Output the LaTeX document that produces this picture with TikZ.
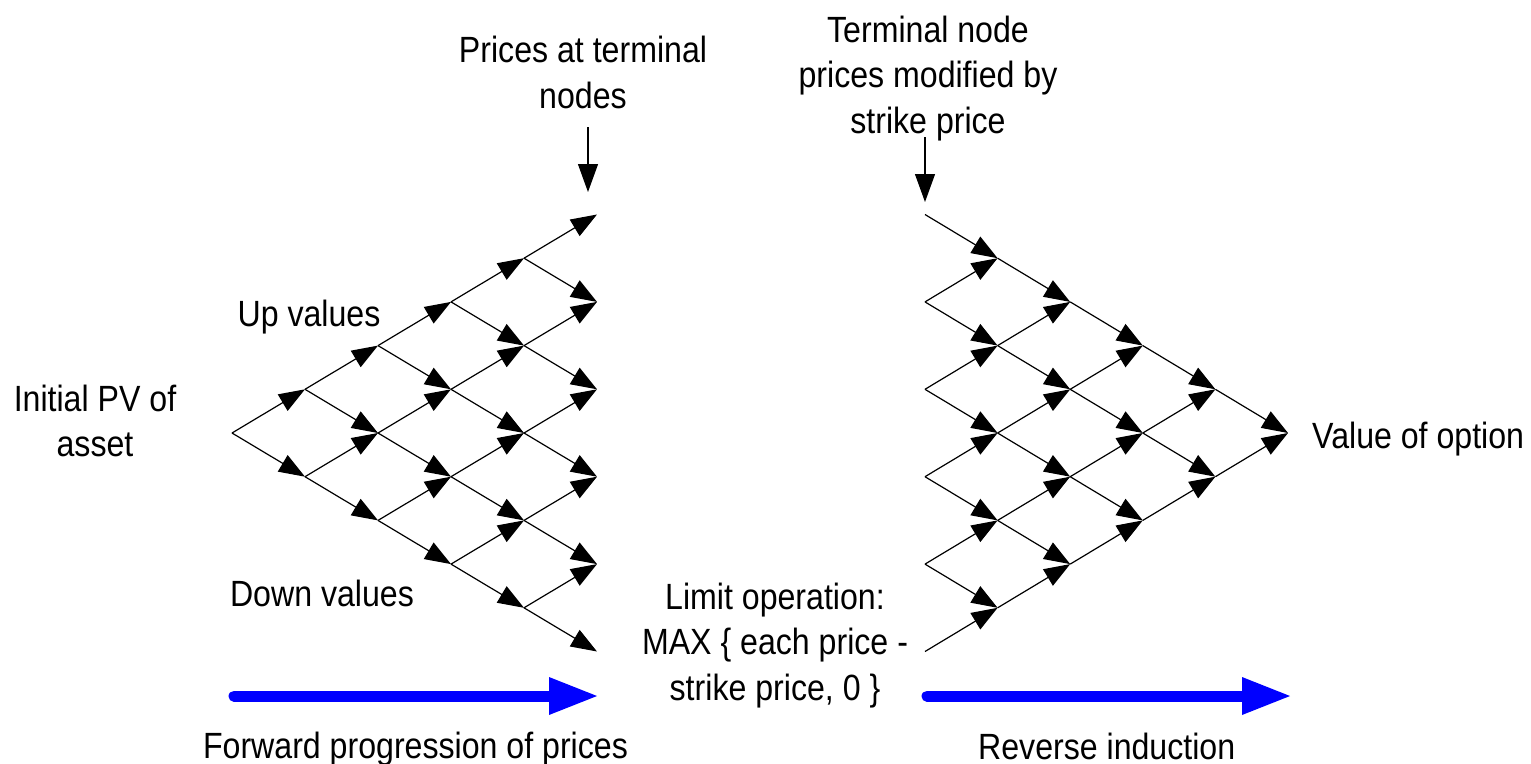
\documentclass[tikz,border=0pt]{standalone}
\usepackage{fontspec}
\setmainfont{Liberation Sans}[FakeStretch=0.88]
\usetikzlibrary{arrows.meta}
\begin{document}
\begin{tikzpicture}[x=1pt,y=-1pt,
  edge/.style={line width=1.2pt, -{Triangle[length=26pt,width=19pt]}},
  vedge/.style={line width=1.2pt, -{Triangle[length=28pt,width=20pt]}},
  lbl/.style={font=\fontsize{36.5}{45.5}\selectfont, align=center, inner sep=0pt, anchor=base},
  bigarrow/.style={line width=11pt, line cap=round, draw=blue, -{Triangle[length=48pt,width=38pt,line width=0pt]}}]
\useasboundingbox[fill=white] (0,0) rectangle (1531,763);
% left tree nodes
\foreach \i in {0,...,5} {
  \foreach \j in {0,...,\i} {
    \coordinate (L-\i-\j) at ({232+73*\i},{433-43.7*\i+87.4*\j});
  }
}
% left tree edges
\foreach \i in {0,...,4} {
  \pgfmathtruncatemacro\ni{\i+1}
  \foreach \j in {0,...,\i} {
    \pgfmathtruncatemacro\nj{\j+1}
    \draw[edge] (L-\i-\j) -- (L-\ni-\j);
    \draw[edge] (L-\i-\j) -- (L-\ni-\nj);
  }
}
% right tree nodes
\foreach \k in {0,...,5} {
  \pgfmathtruncatemacro\m{5-\k}
  \foreach \j in {0,...,\m} {
    \coordinate (R-\k-\j) at ({925+72.6*\k},{433-43.7*(5-\k)+87.4*\j});
  }
}
% right tree edges
\foreach \k in {0,...,4} {
  \pgfmathtruncatemacro\nk{\k+1}
  \pgfmathtruncatemacro\m{5-\k}
  \pgfmathtruncatemacro\lim{4-\k}
  \foreach \j in {0,...,\m} {
    \pgfmathtruncatemacro\pj{\j-1}
    \ifnum\j>\lim\relax\else
      \draw[edge] (R-\k-\j) -- (R-\nk-\j);
    \fi
    \ifnum\j>0\relax
      \draw[edge] (R-\k-\j) -- (R-\nk-\pj);
    \fi
  }
}
% labels (base anchor = last line baseline)
\node[lbl] (ptn) at (583,108.3) {Prices at terminal\\nodes};
\node[lbl] (tnp) at (928,133.3) {Terminal node\\prices modified by\\strike price};
\node[lbl] (up) at (309,326) {Up values};
\node[lbl] (ipv) at (95,456.5) {Initial PV of\\asset};
\node[lbl] (dv) at (322,606.7) {Down values};
\node[lbl] (lim) at (775,700) {Limit operation:\\MAX \{ each price -\\strike price, 0 \}};
\node[lbl, anchor=base west] (vo) at (1312,448.3) {Value of option};
\node[lbl] (fwd) at (415.5,758.4) {Forward progression of prices};
\node[lbl] (rev) at (1106.7,759.3) {Reverse induction};
% pointer arrows
\coordinate (pa1) at (588,127);
\coordinate (pa2) at (588,192);
\draw[vedge] (pa1) -- (pa2);
\coordinate (pb1) at (925,137);
\coordinate (pb2) at (925,202);
\draw[vedge] (pb1) -- (pb2);
% blue progression arrows
\coordinate (f1) at (234,696);
\coordinate (f2) at (597,696);
\draw[bigarrow] (f1) -- (f2);
\coordinate (r1) at (927,696);
\coordinate (r2) at (1290,696);
\draw[bigarrow] (r1) -- (r2);
\end{tikzpicture}
\end{document}
